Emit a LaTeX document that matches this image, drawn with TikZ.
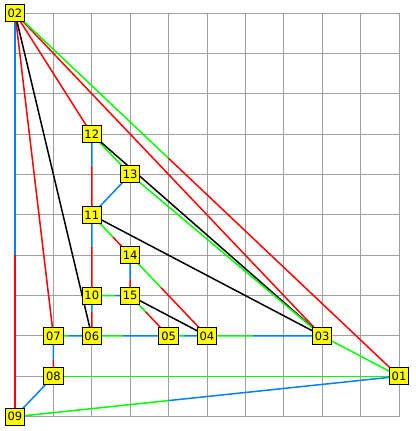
\documentclass[tikz,border=0pt]{standalone}
\usepackage{fontspec}
\setmainfont{DejaVu Sans}
\usetikzlibrary{calc,backgrounds}
\definecolor{ered}{RGB}{255,0,0}
\definecolor{egreen}{RGB}{0,255,0}
\definecolor{eblue}{RGB}{0,128,255}
\definecolor{gridgray}{RGB}{160,160,160}
\definecolor{nodeyellow}{RGB}{255,255,0}
\newcommand{\sedge}[5]{%
  \draw[edge,#3] (#1.center) -- ($(#1.center)!#5!(#2.center)$);%
  \draw[edge,#4] ($(#1.center)!#5!(#2.center)$) -- (#2.center);}
\begin{document}
\begin{tikzpicture}[x=1pt,y=-1pt,
  vnode/.style={draw=black, line width=1pt, fill=nodeyellow, minimum width=19.5pt, minimum height=17pt, inner sep=0pt, font=\fontsize{11.5}{13}\selectfont},
  edge/.style={line width=1.5pt},
  gridline/.style={gridgray, line width=1pt}]
\useasboundingbox (0,0) rectangle (415,431);
\node[vnode] (n01) at (399,376.33) {01};
\node[vnode] (n02) at (15,13) {02};
\node[vnode] (n03) at (322.2,335.96) {03};
\node[vnode] (n04) at (207,335.96) {04};
\node[vnode] (n05) at (168.6,335.96) {05};
\node[vnode] (n06) at (91.8,335.96) {06};
\node[vnode] (n07) at (53.4,335.96) {07};
\node[vnode] (n08) at (53.4,376.33) {08};
\node[vnode] (n09) at (15,416.7) {09};
\node[vnode] (n10) at (91.8,295.59) {10};
\node[vnode] (n11) at (91.8,214.85) {11};
\node[vnode] (n12) at (91.8,134.11) {12};
\node[vnode] (n13) at (130.2,174.48) {13};
\node[vnode] (n14) at (130.2,255.22) {14};
\node[vnode] (n15) at (130.2,295.59) {15};
\begin{pgfonlayer}{background}
\foreach \i in {0,...,10} {
  \draw[gridline] (15+38.4*\i,13) -- (15+38.4*\i,416.7);
  \draw[gridline] (15,13+40.37*\i) -- (399,13+40.37*\i);
}
\sedge{n02}{n09}{eblue}{ered}{0.6}
\draw[edge,ered] (n02.center) -- (n07.center);
\draw[edge,black] (n02.center) -- (n06.center);
\draw[edge,ered] (n02.center) -- (n12.center);
\draw[edge,ered] (n02.center) -- (n03.center);
\sedge{n02}{n01}{egreen}{ered}{0.4}
\sedge{n12}{n11}{eblue}{ered}{0.4}
\draw[edge,egreen] (n12.center) -- (n13.center);
\draw[edge,black] (n12.center) -- (n03.center);
\draw[edge,egreen] (n13.center) -- (n03.center);
\draw[edge,eblue] (n11.center) -- (n13.center);
\sedge{n11}{n10}{eblue}{ered}{0.4}
\sedge{n11}{n14}{egreen}{ered}{0.55}
\draw[edge,black] (n11.center) -- (n03.center);
\sedge{n14}{n15}{eblue}{ered}{0.6}
\sedge{n14}{n04}{egreen}{ered}{0.4}
\sedge{n10}{n15}{egreen}{eblue}{0.6}
\sedge{n10}{n06}{eblue}{ered}{0.4}
\sedge{n15}{n05}{egreen}{ered}{0.4}
\draw[edge,black] (n15.center) -- (n04.center);
\sedge{n07}{n06}{egreen}{eblue}{0.4}
\sedge{n06}{n05}{egreen}{eblue}{0.4}
\sedge{n05}{n04}{egreen}{eblue}{0.4}
\sedge{n04}{n03}{egreen}{eblue}{0.4}
\sedge{n07}{n08}{eblue}{ered}{0.6}
\draw[edge,eblue] (n08.center) -- (n09.center);
\draw[edge,egreen] (n08.center) -- (n01.center);
\sedge{n09}{n01}{egreen}{eblue}{0.4}
\draw[edge,egreen] (n03.center) -- (n01.center);
\end{pgfonlayer}
\end{tikzpicture}
\end{document}
